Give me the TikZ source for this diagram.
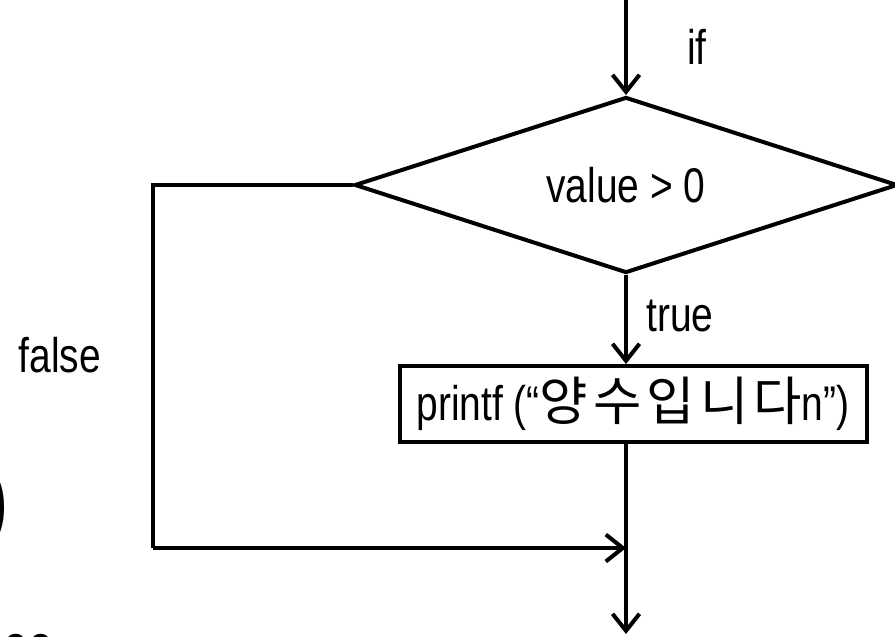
\documentclass[tikz,border=0pt]{standalone}
\usepackage{fontspec}
\setmainfont{Liberation Sans}[FakeStretch=0.8]
\newfontfamily\krfont{Noto Sans CJK KR}[Scale=1.08]
\usepackage{xcolor}
\usepackage{tikz}
\usetikzlibrary{arrows.meta,positioning,shapes.geometric}
\newcommand{\krgap}{\hspace{1.0mm}}
\tikzset{
  flowbox/.style={
    rectangle,
    draw=black,
    line width=0.8mm,
    minimum width=93.4mm,
    minimum height=15.2mm,
    inner sep=0pt,
    font=\fontsize{27.7}{33}\selectfont
  },
  flowdecision/.style={
    diamond,
    aspect=3,
    draw=black,
    line width=0.8mm,
    minimum width=108.6mm,
    minimum height=35.2mm,
    inner sep=0pt,
    font=\fontsize{27.7}{33}\selectfont
  },
  flowlabel/.style={
    inner sep=0pt,
    font=\fontsize{27.7}{33}\selectfont
  },
  flowarrow/.style={
    -{Straight Barb[length=3.4mm,width=5.4mm]},
    line width=0.8mm,
    draw=black
  },
  flowline/.style={
    line width=0.8mm,
    draw=black
  }
}

\begin{document}
\begin{tikzpicture}[x=0.2mm,y=-0.2mm]
\useasboundingbox (0,0) rectangle (895,636);
\coordinate (start) at (626,0);
\node[flowdecision] (cond) at (626,185) {value > 0};
\node[flowbox] (print) at (633,404) {printf (“{\krfont 양\krgap 수\krgap 입\krgap 니\krgap 다}n”)};
\coordinate (join) at (626,548);
\coordinate (fdown) at (153,548);
\coordinate (stop) at (626,634);

\node[flowlabel] (iflabel) at (697,47) {if};
\node[flowlabel] (truelabel) at (680,316) {true};
\node[flowlabel] (falselabel) at (60,355) {false};

% fragments cut off at the left edge
\node[inner sep=0pt, anchor=east, font=\fontsize{50}{60}\selectfont] (paren) at (9,508) {)};
\node[inner sep=0pt, anchor=base west, font=\fontsize{32}{38}\selectfont] (cutword) at (3,664) {ee};

\draw[flowarrow] (start) -- (cond.north);
\draw[flowarrow] (cond.south) -- (cond.south |- print.north);
\draw[flowline] (cond.west) -| (fdown);
\draw[flowarrow] (fdown) -- (join);
\draw[flowarrow] (join |- print.south) -- (stop);
\end{tikzpicture}
\end{document}
